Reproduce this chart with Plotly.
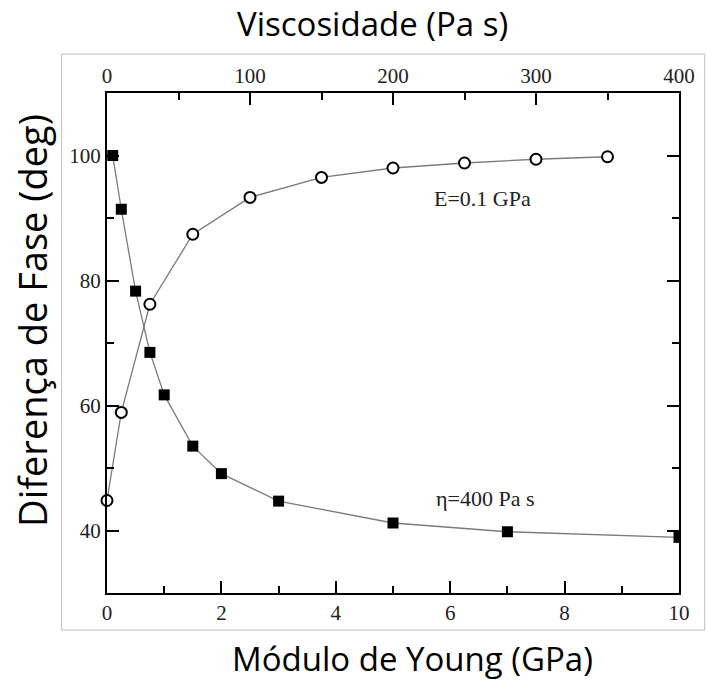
import plotly.graph_objects as go

# Data
young_gpa = [0.1, 0.25, 0.5, 0.75, 1.0, 1.5, 2.0, 3.0, 5.0, 7.0, 10.0]
phase_eta400 = [100.0, 91.4, 78.3, 68.5, 61.7, 53.5, 49.1, 44.7, 41.2, 39.8, 38.9]

visc_pas = [0, 10, 30, 60, 100, 150, 200, 250, 300, 350]
phase_e01 = [44.8, 58.9, 76.2, 87.4, 93.3, 96.5, 98.0, 98.8, 99.4, 99.8]

bottom_ticks = [0, 2, 4, 6, 8, 10]
top_ticks = [0, 100, 200, 300, 400]
y_ticks = [40, 60, 80, 100]

W, H = 707, 680
L, R, T, B = 107, 21, 93, 87
pw, ph = W - L - R, H - T - B

def px_x(x):
    return (x - L) / pw

def px_y(y):
    return (H - B - y) / ph

serif = "Liberation Serif"
sans = "Open Sans"

fig = go.Figure()
fig.add_trace(go.Scatter(
    x=young_gpa, y=phase_eta400, mode="lines+markers", xaxis="x", yaxis="y",
    line=dict(color="#7a7a7a", width=1.3),
    marker=dict(symbol="square", size=11, color="black", line=dict(width=0)),
    cliponaxis=True, showlegend=False))
fig.add_trace(go.Scatter(
    x=visc_pas, y=phase_e01, mode="lines+markers", xaxis="x2", yaxis="y",
    line=dict(color="#7a7a7a", width=1.3),
    marker=dict(symbol="circle", size=11, color="white", line=dict(width=2, color="black")),
    cliponaxis=False, showlegend=False))

axis_common = dict(showline=True, linecolor="black", linewidth=2, ticks="inside",
                   ticklen=12, tickwidth=2, tickcolor="black", showgrid=False,
                   zeroline=False, tickfont=dict(family=serif, size=21, color="#222"))

fig.update_layout(
    width=W, height=H, margin=dict(l=L, r=R, t=T, b=B),
    paper_bgcolor="white", plot_bgcolor="white",
    xaxis=dict(range=[0, 10], tickvals=bottom_ticks, mirror=False,
               minor=dict(ticks="inside", ticklen=7, tickwidth=2, tickcolor="black", dtick=1, tick0=0, showgrid=False),
               **axis_common),
    xaxis2=dict(range=[0, 400], tickvals=top_ticks, overlaying="x", side="top",
                minor=dict(ticks="inside", ticklen=7, tickwidth=2, tickcolor="black", dtick=50, tick0=0, showgrid=False),
                **axis_common),
    yaxis=dict(range=[30, 110], tickvals=y_ticks, mirror="ticks",
               minor=dict(ticks="inside", ticklen=7, tickwidth=2, tickcolor="black", dtick=10, tick0=0, showgrid=False),
               **axis_common),
)

# outer light frame of the original figure
fig.add_shape(type="rect", xref="paper", yref="paper",
              x0=px_x(61), x1=px_x(712), y0=px_y(630), y1=px_y(54),
              line=dict(color="#c0c0c0", width=1), layer="below")

anns = [
    dict(text="E=0.1 GPa", x=px_x(487), y=px_y(198), xanchor="center", font=dict(family=serif, size=22, color="#222")),
    dict(text="η=400 Pa s", x=px_x(490), y=px_y(498), xanchor="center", font=dict(family=serif, size=22, color="#222")),
    dict(text="Viscosidade (Pa s)", x=px_x(237), y=px_y(23), xanchor="left", font=dict(family=sans, size=33, color="black")),
    dict(text="Módulo de Young (GPa)", x=px_x(232), y=px_y(658), xanchor="left", font=dict(family=sans, size=33, color="black")),
    dict(text="Diferença de Fase (deg)", x=px_x(31), y=px_y(320), xanchor="center", textangle=-90, font=dict(family=sans, size=38, color="black")),
]
for a in anns:
    fig.add_annotation(xref="paper", yref="paper", showarrow=False,
                       yanchor="middle", **a)

fig.write_html("out.html")
